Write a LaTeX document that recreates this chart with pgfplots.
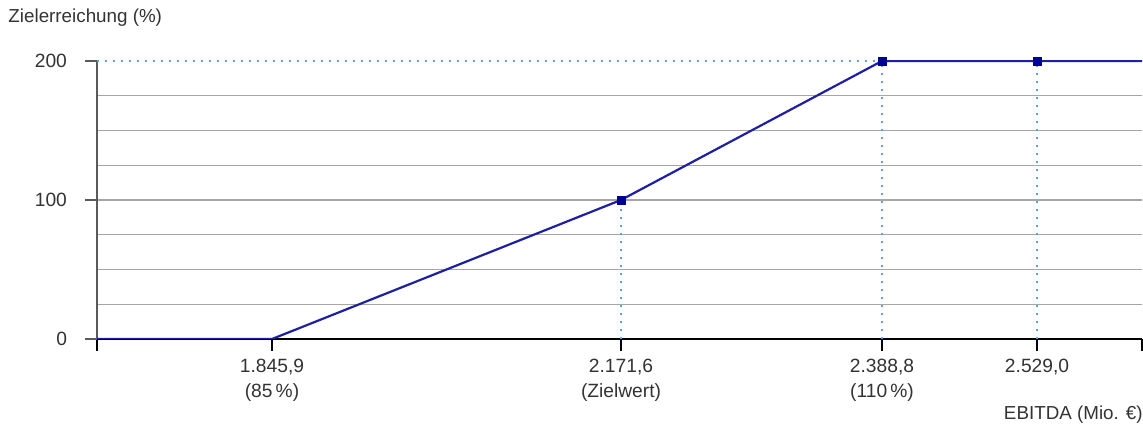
\documentclass[border=0pt]{standalone}
\usepackage{fontspec}
\setmainfont{Liberation Sans}
\usepackage{pgfplots}
\pgfplotsset{compat=1.18}
\definecolor{linecol}{HTML}{1F1FA3}
\definecolor{markcol}{HTML}{000090}
\definecolor{dotcol}{HTML}{5C9DFF}
\definecolor{gridcol}{HTML}{A6A6A6}
\definecolor{axcol}{HTML}{5A5A5A}
\definecolor{txtcol}{HTML}{333333}
\begin{document}
\begin{tikzpicture}
\path[use as bounding box] (-48.5pt,-43.5pt) rectangle (523pt,169.5pt);
\begin{axis}[
  scale only axis, width=522.5pt, height=139pt,
  xmin=0, xmax=1045, ymin=0, ymax=200,
  axis x line*=bottom, axis y line*=left,
  x axis line style={black, line width=0.6pt},
  y axis line style={axcol, line width=0.8pt},
  xtick={0,175,524,785,940,1045},
  xticklabels={{},{1.845,9\\(85\,\%)},{2.171,6\\(Zielwert)},{2.388,8\\(110\,\%)},{2.529,0},{}},
  xticklabel style={align=center, font=\fontsize{9.6}{12.3}\selectfont, text=txtcol, yshift=-0.5pt},
  ytick={0,100,200},
  yticklabel style={font=\fontsize{9.6}{11}\selectfont, text=txtcol, xshift=-5.5pt},
  /pgf/number format/assume math mode=true,
  minor ytick={25,50,75,100,125,150,175},
  yminorgrids, minor grid style={gridcol, line width=0.6pt},
  minor tick length=0pt,
  major tick length=6pt, tick align=outside,
  xtick style={black, line width=0.6pt},
  ytick style={axcol, line width=0.8pt},
  every axis y label/.style={at={(rel axis cs:0,1)}, anchor=west, xshift=-47.8pt, yshift=21.5pt, font=\fontsize{9.4}{11}\selectfont, text=txtcol},
  every axis x label/.style={at={(rel axis cs:1,0)}, anchor=east, xshift=3.8pt, yshift=-38pt, font=\fontsize{9.4}{11}\selectfont, text=txtcol},
  ylabel={Zielerreichung (\%)},
  xlabel={EBITDA (Mio. €)},
]
\addplot[dotcol, line width=0.8pt, dash pattern=on 0.8pt off 3.2pt] coordinates {(0,200)(785,200)};
\addplot[dotcol, line width=0.8pt, dash pattern=on 0.8pt off 3.2pt] coordinates {(524,0)(524,100)};
\addplot[dotcol, line width=0.8pt, dash pattern=on 0.8pt off 3.2pt] coordinates {(785,0)(785,200)};
\addplot[dotcol, line width=0.8pt, dash pattern=on 0.8pt off 3.2pt] coordinates {(940,0)(940,200)};
\addplot[linecol, line width=1.1pt, mark=none] coordinates {(0,0)(175,0)(524,100)(785,200)(1045,200)};
\addplot[only marks, mark=square*, mark size=2pt, markcol] coordinates {(524,100)(785,200)(940,200)};
\end{axis}
\end{tikzpicture}
\end{document}
